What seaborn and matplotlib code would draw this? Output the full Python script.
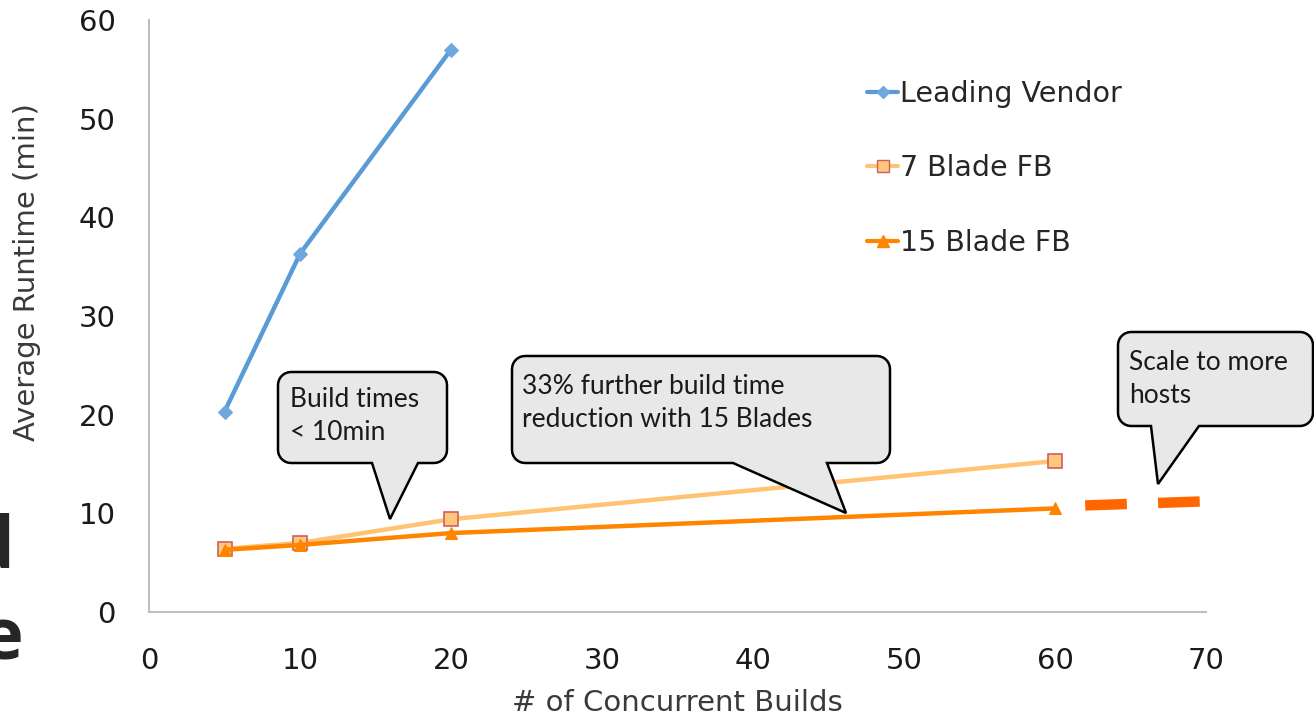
import numpy as np
import pandas as pd
import matplotlib
matplotlib.use("Agg")
import matplotlib.pyplot as plt
import matplotlib.transforms as mtransforms
from matplotlib.patches import PathPatch
from matplotlib.path import Path
from matplotlib.lines import Line2D
import seaborn as sns

# ---- data ----
vendor_x = [5, 10, 20]
vendor_y = [20.3, 36.3, 57.0]
blade7_x = [5, 10, 20, 60]
blade7_y = [6.4, 7.0, 9.4, 15.3]
blade15_x = [5, 10, 20, 60]
blade15_y = [6.3, 6.8, 8.0, 10.5]
proj_x = [62, 69.6]
proj_y = [10.8, 11.2]
series_names = ["Leading Vendor", "7 Blade FB", "15 Blade FB"]
x_ticks = [0, 10, 20, 30, 40, 50, 60, 70]
y_ticks = [0, 10, 20, 30, 40, 50, 60]
callouts = [
    "Build times\n< 10min",
    "33% further build time\nreduction with 15 Blades",
    "Scale to more\nhosts",
]

sns.set_theme(style="white")
plt.rcParams["font.family"] = ["DejaVu Sans"]

W, H = 1314, 717
fig = plt.figure(figsize=(W / 100, H / 100), dpi=100)
ax = fig.add_axes([149 / W, 1 - 612 / H, (1206 - 149) / W, (612 - 20) / H])

blue = "#5B9BD5"
light_or = "#FFC374"
orange = "#FF8400"

df_v = pd.DataFrame({"x": vendor_x, "y": vendor_y})
df_7 = pd.DataFrame({"x": blade7_x, "y": blade7_y})
df_15 = pd.DataFrame({"x": blade15_x, "y": blade15_y})
df_p = pd.DataFrame({"x": proj_x, "y": proj_y})

sns.lineplot(data=df_v, x="x", y="y", ax=ax, color=blue, lw=3.2,
             marker="D", markersize=7, markerfacecolor="#6FA8E0",
             markeredgecolor="#6FA8E0", legend=False)
sns.lineplot(data=df_7, x="x", y="y", ax=ax, color=light_or, lw=3.2,
             marker="s", markersize=10, markerfacecolor="#FFC77D",
             markeredgecolor="#D0605A", markeredgewidth=1.2, legend=False)
sns.lineplot(data=df_15, x="x", y="y", ax=ax, color=orange, lw=3.2,
             marker="^", markersize=8, markerfacecolor=orange,
             markeredgecolor=orange, legend=False, zorder=3)
sns.lineplot(data=df_p, x="x", y="y", ax=ax, color="#FF6600", lw=7.5,
             legend=False)
ax.lines[-1].set_dashes([4.0, 3.0])
ax.lines[-1].set_dash_capstyle("butt")
ax.lines[-1].set_clip_on(False)

ax.set_xlim(0, 70)
ax.set_ylim(0, 60)
ax.set_xticks(x_ticks)
ax.set_yticks(y_ticks)
ax.set_xticklabels([str(t) for t in x_ticks])
ax.set_yticklabels([str(t) for t in y_ticks])
for s in ["top", "right"]:
    ax.spines[s].set_visible(False)
for s in ["left", "bottom"]:
    ax.spines[s].set_color("#BFBFBF")
    ax.spines[s].set_linewidth(1.5)
ax.tick_params(axis="both", direction="out", length=7, width=1.5,
               color="#BFBFBF", labelsize=21, labelcolor="#1a1a1a")
ax.tick_params(axis="y", pad=17)
ax.tick_params(axis="x", pad=18)
ax.set_xlabel("# of Concurrent Builds", fontsize=21, color="#3a3a3a")
ax.set_ylabel("Average Runtime (min)", fontsize=21, color="#3a3a3a")
ax.xaxis.set_label_coords(0.5, (612 - 703) / 592)
ax.xaxis.label.set_va("center")
ax.yaxis.set_label_coords((27 - 149) / 1057, (612 - 272) / 592)
ax.yaxis.label.set_va("center")
ax.patch.set_alpha(0)

handles = [
    Line2D([], [], color=blue, lw=3, marker="D", markersize=6,
           markerfacecolor="#6FA8E0", markeredgecolor="#6FA8E0"),
    Line2D([], [], color=light_or, lw=3, marker="s", markersize=9,
           markerfacecolor="#FFC77D", markeredgecolor="#D0605A"),
    Line2D([], [], color=orange, lw=3, marker="^", markersize=8,
           markerfacecolor=orange, markeredgecolor=orange),
]
fig.legend(handles, series_names, loc="upper left",
           bbox_to_anchor=(867 / W, 1 - 80 / H), frameon=False,
           fontsize=20.5, handlelength=1.1, handletextpad=0.05,
           labelspacing=1.63, borderaxespad=0, borderpad=0)

# ---- callouts in image-pixel coordinates ----
pix = mtransforms.Affine2D().scale(1 / W, 1 / H) + fig.transFigure


def callout(x0, y0, x1, y1, tb0, tb1, tip, r=13):
    # y measured from top in pixels
    def P(x, y):
        return (x, H - y)
    verts, codes = [], []
    def arc(cx, cy, a0, a1):
        for a in np.linspace(a0, a1, 8):
            verts.append(P(cx + r * np.cos(a), cy + r * np.sin(a)))
            codes.append(Path.LINETO)
    verts.append(P(x0 + r, y0)); codes.append(Path.MOVETO)
    verts.append(P(x1 - r, y0)); codes.append(Path.LINETO)
    arc(x1 - r, y0 + r, -np.pi / 2, 0)
    verts.append(P(x1, y1 - r)); codes.append(Path.LINETO)
    arc(x1 - r, y1 - r, 0, np.pi / 2)
    verts.append(P(tb1, y1)); codes.append(Path.LINETO)
    verts.append(P(*tip)); codes.append(Path.LINETO)
    verts.append(P(tb0, y1)); codes.append(Path.LINETO)
    verts.append(P(x0 + r, y1)); codes.append(Path.LINETO)
    arc(x0 + r, y1 - r, np.pi / 2, np.pi)
    verts.append(P(x0, y0 + r)); codes.append(Path.LINETO)
    arc(x0 + r, y0 + r, np.pi, 1.5 * np.pi)
    verts.append(P(x0 + r, y0)); codes.append(Path.CLOSEPOLY)
    patch = PathPatch(Path(verts, codes), facecolor="#E8E8E8",
                      edgecolor="black", lw=1.8, transform=pix,
                      joinstyle="miter", zorder=5)
    fig.patches.append(patch)


callout(278, 372, 447, 463, 372, 418, (390, 519))
callout(512, 356, 890, 463, 733, 827, (846, 513))
callout(1118, 332, 1313, 426, 1151, 1199, (1158, 484))

txt_kw = dict(transform=pix, fontsize=19, color="#1a1a1a", va="center",
              ha="left", linespacing=1.4, zorder=6,
              family=["Lato", "DejaVu Sans"])
fig.text(290, H - 416, callouts[0], **txt_kw)
fig.text(522, H - 403, callouts[1], **txt_kw)
fig.text(1129, H - 379, callouts[2], **txt_kw)

# fragments of slide text at the left edge
big = dict(transform=pix, fontsize=52, fontweight="bold", color="#262626",
           ha="right", va="baseline", family=["Open Sans", "DejaVu Sans"])
fig.text(14, H - 568, "d", **big)
fig.text(23, H - 659, "e", **big)

fig.savefig("out.png", dpi=100)
